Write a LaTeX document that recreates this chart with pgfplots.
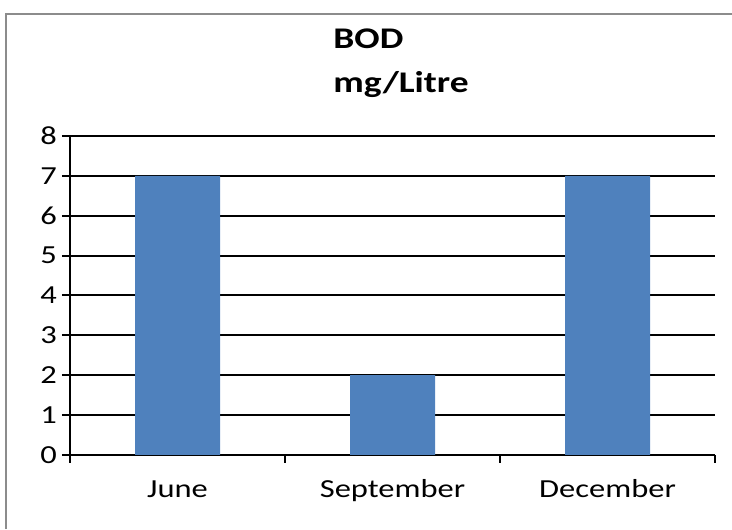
\documentclass[border=0pt]{standalone}
\usepackage{fontspec}
\setmainfont{Carlito}[FakeStretch=1.25]
\usepackage{pgfplots}
\pgfplotsset{compat=1.18}
\definecolor{barblue}{HTML}{4F81BD}
\begin{document}
\begin{tikzpicture}
\path[use as bounding box] (0,0) rectangle (366pt,264.5pt);
\draw[color=black!45, line width=0.8pt] (3pt,0) -- (3pt,257.5pt) -- (366pt,257.5pt);
\begin{axis}[
  at={(35pt,37pt)}, anchor=south west,
  scale only axis, width=322.5pt, height=159.5pt,
  xmin=-0.5, xmax=2.5, ymin=0, ymax=8,
  axis x line*=bottom, axis y line*=left,
  axis line style={line width=1pt, -},
  xtick={0,1,2}, xticklabels={June,September,December},
  minor xtick={-0.5,0.5,1.5,2.5},
  ytick={0,1,2,3,4,5,6,7,8},
  minor ytick={0,1,2,3,4,5,6,7,8},
  tick align=outside,
  major tick length=0pt,
  minor tick length=4pt,
  every tick/.style={black, line width=1pt},
  ymajorgrids, grid style={black, line width=1pt},
  tick label style={font=\fontsize{13pt}{15pt}\selectfont},
  xticklabel style={yshift=-8pt, text height=9.5pt, text depth=3pt},
  yticklabel style={xshift=-3pt},
  /pgf/number format/assume math mode=true,
  clip=false,
]
\addplot[ybar, bar width=42.5pt, fill=barblue, draw=none] coordinates {(0,7) (1,2) (2,7)};
\end{axis}
\node[anchor=base west, inner sep=0pt, font=\fontsize{15pt}{18pt}\selectfont\bfseries] at (166.5pt,240pt) {BOD};
\node[anchor=base west, inner sep=0pt, font=\fontsize{15pt}{18pt}\selectfont\bfseries] at (166.5pt,218pt) {mg/Litre};
\end{tikzpicture}
\end{document}
